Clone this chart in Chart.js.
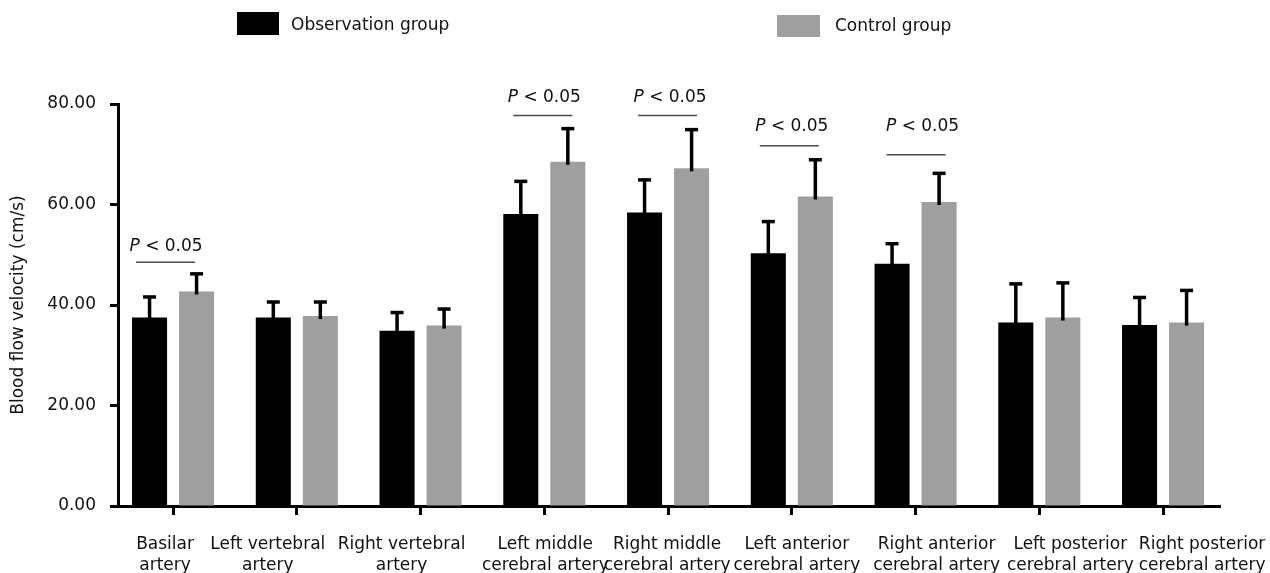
<!DOCTYPE html>
<html>
<head>
<meta charset="utf-8">
<script src="https://cdn.jsdelivr.net/npm/chart.js@4.4.0/dist/chart.umd.min.js"></script>
<style>
  html, body { margin: 0; padding: 0; background: #fff; }
</style>
</head>
<body>
<canvas id="flow" width="1270" height="573"></canvas>
<script>
var categories = [
  ["Basilar", "artery"],
  ["Left vertebral", "artery"],
  ["Right vertebral", "artery"],
  ["Left middle", "cerebral artery"],
  ["Right middle", "cerebral artery"],
  ["Left anterior", "cerebral artery"],
  ["Right anterior", "cerebral artery"],
  ["Left posterior", "cerebral artery"],
  ["Right posterior", "cerebral artery"],
];

var observation = [37.5, 37.5, 34.9, 58.1, 58.4, 50.3, 48.2, 36.5, 36.0];
var observation_sd = [4.1, 3.1, 3.6, 6.5, 6.5, 6.3, 4.0, 7.7, 5.5];

var control = [42.7, 37.8, 35.9, 68.5, 67.2, 61.6, 60.5, 37.5, 36.5];
var control_sd = [3.5, 2.8, 3.3, 6.6, 7.7, 7.3, 5.7, 6.9, 6.4];

var y_ticks = [0, 20, 40, 60, 80];

// significance brackets: category index, line height, label height (axis units)
var sig_index = [0, 3, 4, 5, 6];
var sig_line = [48.5, 77.7, 77.7, 71.7, 69.9];
var sig_text = [51.6, 81.2, 81.2, 75.6, 75.6];

var FONT = "DejaVu Sans";

// the original figure has its category labels nudged sideways (px)
var label_nudge = [-8, -29, -19, 1, -1, 5, 21, 31, 39];
var sig_text_nudge = [-7, 0, 2, 0, 7];
var sig_line_nudge = [-6, 0, 1, -1, 2];

function toPoints(values) {
  return values.map(function (v, i) {
    return { x: i, y: v };
  });
}

const errorBars = {
  id: "errorBars",
  afterDatasetsDraw(chart) {
    const ctx = chart.ctx;
    const yScale = chart.scales.y;
    chart.data.datasets.forEach(function (ds, di) {
      const meta = chart.getDatasetMeta(di);
      meta.data.forEach(function (bar, i) {
        const top = yScale.getPixelForValue(ds.data[i].y + ds.sd[i]);
        ctx.save();
        ctx.strokeStyle = "#000";
        ctx.lineWidth = 3.5;
        ctx.beginPath();
        ctx.moveTo(bar.x, bar.y + 3);
        ctx.lineTo(bar.x, top);
        ctx.stroke();
        ctx.beginPath();
        ctx.moveTo(bar.x - 6.5, top);
        ctx.lineTo(bar.x + 6.5, top);
        ctx.stroke();
        ctx.restore();
      });
    });
  },
};

const sigMarks = {
  id: "sigMarks",
  afterDraw(chart) {
    const ctx = chart.ctx;
    const xs = chart.scales.x;
    const ys = chart.scales.y;
    sig_index.forEach(function (idx, k) {
      const cx = xs.getPixelForValue(idx);
      const lx = cx + sig_line_nudge[k];
      const ly = ys.getPixelForValue(sig_line[k]);
      const ty = ys.getPixelForValue(sig_text[k]);
      ctx.save();
      ctx.strokeStyle = "#4a4a4a";
      ctx.lineWidth = 1.5;
      ctx.beginPath();
      ctx.moveTo(lx - 31, ly);
      ctx.lineTo(lx + 28, ly);
      ctx.stroke();

      ctx.fillStyle = "#111";
      ctx.textBaseline = "middle";
      ctx.textAlign = "left";
      ctx.font = "italic 17px " + FONT;
      const wP = ctx.measureText("P").width;
      ctx.font = "17px " + FONT;
      const wRest = ctx.measureText(" < 0.05").width;
      const x0 = cx + sig_text_nudge[k] - (wP + wRest) / 2;
      ctx.font = "italic 17px " + FONT;
      ctx.fillText("P", x0, ty);
      ctx.font = "17px " + FONT;
      ctx.fillText(" < 0.05", x0 + wP, ty);
      ctx.restore();
    });
  },
};

const xLabels = {
  id: "xLabels",
  afterDraw(chart) {
    const ctx = chart.ctx;
    const xs = chart.scales.x;
    const base = chart.chartArea.bottom;
    ctx.save();
    ctx.fillStyle = "#111";
    ctx.font = "17px " + FONT;
    ctx.textAlign = "center";
    ctx.textBaseline = "alphabetic";
    categories.forEach(function (lines, i) {
      const cx = xs.getPixelForValue(i) + label_nudge[i];
      lines.forEach(function (line, j) {
        ctx.fillText(line, cx, base + 43 + j * 21);
      });
    });
    ctx.restore();
  },
};

const topLegend = {
  id: "topLegend",
  afterDraw(chart) {
    const ctx = chart.ctx;
    const spots = [
      { bx: 237, by: 12, bw: 42, bh: 23, tx: 291, ty: 26 },
      { bx: 777, by: 15, bw: 43, bh: 22, tx: 835, ty: 27 },
    ];
    chart.data.datasets.forEach(function (ds, i) {
      const s = spots[i];
      ctx.save();
      ctx.fillStyle = ds.backgroundColor;
      ctx.fillRect(s.bx, s.by, s.bw, s.bh);
      ctx.fillStyle = "#111";
      ctx.font = "17px " + FONT;
      ctx.textBaseline = "middle";
      ctx.fillText(ds.label, s.tx, s.ty);
      ctx.restore();
    });
  },
};

const ctx = document.getElementById("flow");

const flowChart = new Chart(ctx, {
  type: "bar",
  data: {
    datasets: [
      {
        label: "Observation group",
        data: toPoints(observation),
        sd: observation_sd,
        backgroundColor: "#000000",
        categoryPercentage: 0.76,
        barPercentage: 0.745,
      },
      {
        label: "Control group",
        data: toPoints(control),
        sd: control_sd,
        backgroundColor: "#a09fa0",
        categoryPercentage: 0.76,
        barPercentage: 0.745,
      },
    ],
  },
  options: {
    responsive: false,
    animation: false,
    layout: {
      padding: { top: 104, right: 50, left: 0, bottom: 0 },
    },
    plugins: {
      legend: { display: false },
      tooltip: { enabled: false },
    },
    scales: {
      x: {
        type: "linear",
        min: -0.445,
        max: 8.46,
        offset: false,
        afterBuildTicks: function (scale) {
          scale.ticks = categories.map(function (c, i) {
            return { value: i };
          });
        },
        afterFit: function (scale) {
          scale.height = 67;
        },
        grid: {
          offset: false,
          drawOnChartArea: false,
          tickLength: 9,
          tickWidth: 3,
          tickColor: "#000",
        },
        border: { color: "#000", width: 3 },
        ticks: {
          display: false,
          maxRotation: 0,
          autoSkip: false,
        },
      },
      y: {
        min: 0,
        max: 80,
        afterBuildTicks: function (scale) {
          scale.ticks = y_ticks.map(function (v) {
            return { value: v };
          });
        },
        afterFit: function (scale) {
          scale.width = 118;
        },
        grid: {
          drawOnChartArea: false,
          tickLength: 8,
          tickWidth: 3,
          tickColor: "#000",
        },
        border: { color: "#000", width: 3 },
        ticks: {
          callback: function (v) {
            return v.toFixed(2);
          },
          padding: 14,
          color: "#111",
          font: { family: FONT, size: 17 },
        },
        title: {
          display: true,
          text: "Blood flow velocity (cm/s)",
          color: "#111",
          font: { family: FONT, size: 17 },
          padding: { top: 8, bottom: 0 },
        },
      },
    },
  },
  plugins: [errorBars, sigMarks, xLabels, topLegend],
});
</script>
</body>
</html>
